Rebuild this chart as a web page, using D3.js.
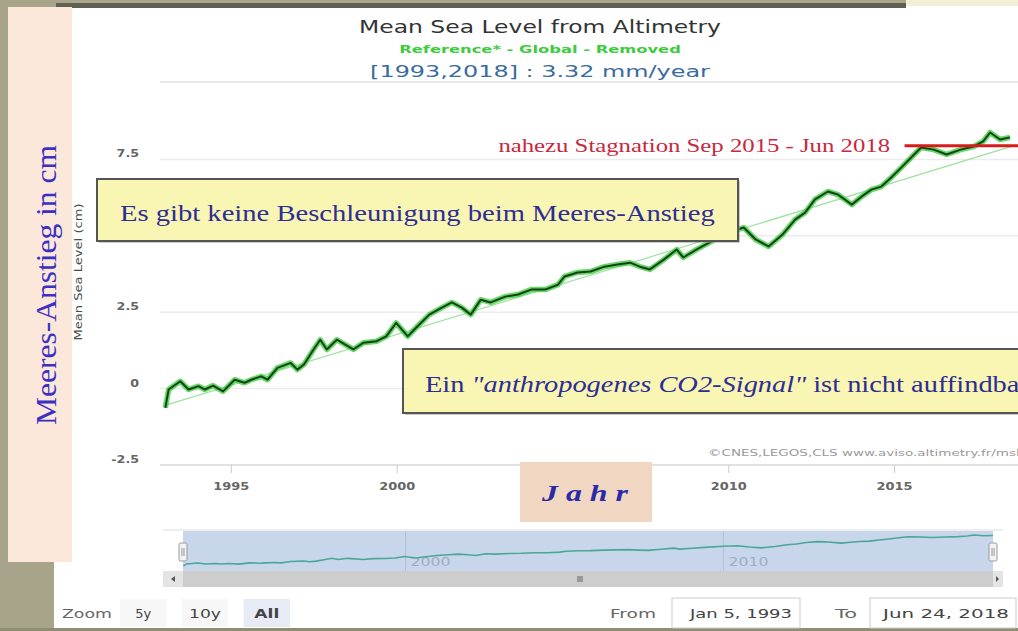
<!DOCTYPE html>
<html>
<head>
<meta charset="utf-8">
<script src="https://cdnjs.cloudflare.com/ajax/libs/d3/7.8.5/d3.min.js"></script>
<style>
  body { margin: 0; background: #fff; overflow: hidden; }
  svg { display: block; }
</style>
</head>
<body>
<script>
// values (cm, decimal year)
var years = [1993.01,1993.11,1993.46,1993.71,1994.01,1994.20,1994.45,1994.75,1995.10,1995.40,1995.60,1995.90,
  1996.09,1996.39,1996.79,1996.99,1997.19,1997.48,1997.68,1997.88,1998.18,1998.68,1998.98,1999.38,1999.67,1999.97,
  2000.32,2000.57,2000.97,2001.35,2001.65,2001.95,2002.22,2002.52,2002.82,2003.26,2003.65,2004.04,2004.46,2004.85,
  2005.05,2005.44,2005.83,2006.25,2006.64,2007.02,2007.32,2007.62,2008.04,2008.43,2008.63,2009.02,2009.41,2010.00,
  2010.45,2010.81,2011.20,2011.62,2012.00,2012.30,2012.60,2012.99,2013.29,2013.71,2014.00,2014.30,2014.60,2014.90,
  2015.20,2015.59,2015.80,2016.18,2016.57,2016.99,2017.38,2017.67,2017.88,2018.18,2018.48]
var levels = [-0.63,-0.03,0.24,-0.03,0.08,-0.03,0.10,-0.09,0.29,0.19,0.29,0.40,
  0.29,0.68,0.84,0.62,0.79,1.28,1.60,1.28,1.60,1.28,1.50,1.55,1.71,2.15,
  1.71,1.99,2.42,2.65,2.82,2.65,2.42,2.91,2.82,3.01,3.08,3.24,3.24,3.40,
  3.67,3.80,3.83,3.99,4.06,4.12,3.99,3.90,4.22,4.55,4.29,4.55,4.78,5.11,
  5.27,4.88,4.65,5.04,5.53,5.76,6.19,6.45,6.35,6.02,6.28,6.51,6.61,6.91,
  7.23,7.66,7.89,7.82,7.66,7.82,7.92,8.09,8.38,8.15,8.22]

// linear trend 3.32 mm/year
var trendYears = [1993.0, 2018.48]
var trendLevels = [-0.55, 7.91]

// "nahezu Stagnation" marker
var stagYears = [2015.3, 2018.9]
var stagLevel = 7.95

var yTicks = [-2.5, 0, 2.5, 5, 7.5]
var xTicks = [1995, 2000, 2005, 2010, 2015]
// the 5 and 2005 labels sit under the pasted boxes in the picture
var yLabels = [-2.5, 0, 2.5, 7.5]
var xLabels = [1995, 2000, 2010, 2015]
var navTicks = [2000, 2010]
var zoomButtons = ['5y', '10y', 'All']

var W = 1018, H = 631
var sans = '"DejaVu Sans", Verdana, sans-serif'
var serif = '"Liberation Serif", "Times New Roman", serif'

var svg = d3.select('body').append('svg')
    .attr('width', W)
    .attr('height', H)

// horizontally fit a text to a width (the screenshot is a bit stretched)
function place(t, x, y, anchor, width) {
    t.attr('text-anchor', anchor).attr('x', 0).attr('y', 0)
    var k = width ? width / t.node().getComputedTextLength() : 1
    t.attr('transform', 'translate(' + x + ',' + y + ') scale(' + k + ',1)')
    return t
}

// slide frame
svg.append('rect').attr('x', 0).attr('y', 0).attr('width', W).attr('height', H).attr('fill', '#fff')
svg.append('rect').attr('x', 0).attr('y', 0).attr('width', 8).attr('height', H).attr('fill', '#a7a489')
svg.append('rect').attr('x', 0).attr('y', 0).attr('width', 56).attr('height', 7).attr('fill', '#a7a489')
svg.append('rect').attr('x', 56).attr('y', 0).attr('width', 850).attr('height', 3).attr('fill', '#a9a68c')
svg.append('rect').attr('x', 56).attr('y', 3).attr('width', 850).attr('height', 5).attr('fill', '#5f5f54')
svg.append('rect').attr('x', 906).attr('y', 0).attr('width', 112).attr('height', 6).attr('fill', '#f3efd6')
svg.append('rect').attr('x', 0).attr('y', 562).attr('width', 54).attr('height', 69).attr('fill', '#a7a489')
svg.append('rect').attr('x', 8).attr('y', 7).attr('width', 64).attr('height', 555).attr('fill', '#fce8db')
svg.append('rect').attr('x', 0).attr('y', 628).attr('width', W).attr('height', 3).attr('fill', '#8f8d72')

var x = d3.scaleLinear().domain([1993, 2018.48]).range([165, 1010])
var y = d3.scaleLinear().domain([-2.5, 10]).range([465, 83])

// titles
place(svg.append('text').text('Mean Sea Level from Altimetry')
    .style('font-family', sans).style('font-size', '17px').attr('fill', '#333'), 540, 33, 'middle', 362)
place(svg.append('text').text('Reference* - Global - Removed')
    .style('font-family', sans).style('font-size', '11px').style('font-weight', 'bold').attr('fill', '#3ccc3c'), 540, 53, 'middle', 282)
place(svg.append('text').text('[1993,2018] : 3.32 mm/year')
    .style('font-family', sans).style('font-size', '16px').attr('fill', '#3a6b9e'), 540, 77, 'middle', 340)

// grid
svg.append('line').attr('x1', 160).attr('x2', W).attr('y1', y(10) - 1).attr('y2', y(10) - 1)
    .attr('stroke', '#e3e3e3').attr('stroke-width', 1.5)
svg.selectAll('line.grid')
    .data(yTicks)
    .enter()
    .append('line')
        .attr('class', 'grid')
        .attr('x1', 160).attr('x2', W)
        .attr('y1', function(d) { return y(d) }).attr('y2', function(d) { return y(d) })
        .attr('stroke', function(d) { return d == -2.5 ? '#d8d8d8' : '#ececec' })
        .attr('stroke-width', 1.5)

svg.selectAll('text.ytick')
    .data(yLabels)
    .enter()
    .append('text')
        .attr('class', 'ytick')
        .text(function(d) { return d })
        .style('font-family', sans).style('font-size', '11px').style('font-weight', 'bold')
        .attr('fill', '#666')
        .each(function(d) {
            var t = d3.select(this)
            place(t, 139, y(d) - 2, 'end', t.node().getComputedTextLength() * 1.15)
        })

svg.selectAll('line.xtick')
    .data(xTicks)
    .enter()
    .append('line')
        .attr('class', 'xtick')
        .attr('x1', function(d) { return x(d) }).attr('x2', function(d) { return x(d) })
        .attr('y1', 465).attr('y2', 473)
        .attr('stroke', '#ccc')

svg.selectAll('text.xtick')
    .data(xLabels)
    .enter()
    .append('text')
        .attr('class', 'xtick')
        .text(function(d) { return d })
        .style('font-family', sans).style('font-size', '11px').style('font-weight', 'bold')
        .attr('fill', '#666')
        .each(function(d) { place(d3.select(this), x(d), 490, 'middle', 36) })

svg.append('text').text('Mean Sea Level (cm)')
    .attr('transform', 'translate(82,272) rotate(-90)')
    .attr('text-anchor', 'middle')
    .attr('textLength', 137)
    .attr('lengthAdjust', 'spacingAndGlyphs')
    .style('font-family', sans).style('font-size', '11px')
    .attr('fill', '#4a4a4a')

place(svg.append('text').text('\u00a9CNES,LEGOS,CLS www.aviso.altimetry.fr/msl')
    .style('font-family', sans).style('font-size', '9px')
    .attr('fill', '#9a9a9a'), 708, 456, 'start', 312)

// series
var pts = years.map(function(d, i) { return [d, levels[i]] })
var line = d3.line()
    .x(function(d) { return x(d[0]) })
    .y(function(d) { return y(d[1]) })

svg.append('path')
    .datum([[trendYears[0], trendLevels[0]], [trendYears[1], trendLevels[1]]])
    .attr('d', line)
    .attr('fill', 'none')
    .attr('stroke', '#9ee29e')
    .attr('stroke-width', 1.2)

svg.append('path')
    .datum(pts)
    .attr('d', line)
    .attr('fill', 'none')
    .attr('stroke', '#3fd03f')
    .attr('stroke-width', 5.5)
    .attr('stroke-linejoin', 'round')
    .attr('opacity', 0.8)

svg.append('path')
    .datum(pts)
    .attr('d', line)
    .attr('fill', 'none')
    .attr('stroke', '#173f19')
    .attr('stroke-width', 2)
    .attr('stroke-linejoin', 'round')

// stagnation marker
svg.append('line')
    .attr('x1', x(stagYears[0])).attr('x2', x(stagYears[1]))
    .attr('y1', y(stagLevel)).attr('y2', y(stagLevel))
    .attr('stroke', '#d81c1c')
    .attr('stroke-width', 3)
place(svg.append('text').text('nahezu Stagnation Sep 2015 - Jun 2018')
    .style('font-family', serif).style('font-size', '19px').attr('fill', '#c8283e'), 890, 152, 'end', 392)

// annotation boxes
svg.append('rect').attr('x', 99).attr('y', 181).attr('width', 641).attr('height', 62).attr('fill', '#9a9a8a').attr('opacity', 0.5)
svg.append('rect').attr('x', 97).attr('y', 179).attr('width', 641).attr('height', 62)
    .attr('fill', '#f9f5b3').attr('stroke', '#555').attr('stroke-width', 2)
place(svg.append('text').text('Es gibt keine Beschleunigung beim Meeres-Anstieg')
    .style('font-family', serif).style('font-size', '24px').attr('fill', '#2d2d95'), 120, 221, 'start', 595)

svg.append('rect').attr('x', 405).attr('y', 351).attr('width', 660).attr('height', 64).attr('fill', '#9a9a8a').attr('opacity', 0.5)
svg.append('rect').attr('x', 403).attr('y', 349).attr('width', 660).attr('height', 64)
    .attr('fill', '#f9f5b3').attr('stroke', '#555').attr('stroke-width', 2)
var t2 = svg.append('text')
    .style('font-family', serif).style('font-size', '24px').attr('fill', '#2d2d95')
t2.append('tspan').text('Ein ')
t2.append('tspan').text('"anthropogenes CO2-Signal"').style('font-style', 'italic')
t2.append('tspan').text(' ist nicht auffindbar')
place(t2, 425, 392, 'start', 604)

// left label
svg.append('text').text('Meeres-Anstieg in cm')
    .attr('transform', 'translate(56,285) rotate(-90)')
    .attr('text-anchor', 'middle')
    .attr('textLength', 280)
    .attr('lengthAdjust', 'spacingAndGlyphs')
    .style('font-family', serif).style('font-size', '29px')
    .attr('fill', '#3b30c2')

// Jahr box
svg.append('rect').attr('x', 520).attr('y', 462).attr('width', 132).attr('height', 60).attr('fill', '#f1d6c1')
place(svg.append('text').text('J a h r')
    .style('font-family', serif).style('font-size', '23px')
    .style('font-weight', 'bold').style('font-style', 'italic')
    .attr('fill', '#2a2aa8'), 585, 501, 'middle', 86)

// navigator
var nx = d3.scaleLinear().domain([1993, 2018.48]).range([183, 993])
var ny = d3.scaleLinear().domain(d3.extent(levels)).range([566, 535])

svg.append('line').attr('x1', 163).attr('x2', 1003).attr('y1', 530).attr('y2', 530).attr('stroke', '#ddd')
svg.append('rect').attr('x', 183).attr('y', 531).attr('width', 810).attr('height', 40).attr('fill', '#c7d6eb')
svg.selectAll('line.navgrid')
    .data(navTicks)
    .enter()
    .append('line')
        .attr('class', 'navgrid')
        .attr('x1', function(d) { return nx(d) }).attr('x2', function(d) { return nx(d) })
        .attr('y1', 531).attr('y2', 571)
        .attr('stroke', '#b3c2d8')
svg.selectAll('text.navtick')
    .data(navTicks)
    .enter()
    .append('text')
        .attr('class', 'navtick')
        .text(function(d) { return d })
        .style('font-family', sans).style('font-size', '12px')
        .attr('fill', '#9fadc0')
        .each(function(d) { place(d3.select(this), nx(d) + 5, 566, 'start', 40) })

svg.append('path')
    .datum(pts)
    .attr('d', d3.line().x(function(d) { return nx(d[0]) }).y(function(d) { return ny(d[1]) }))
    .attr('fill', 'none')
    .attr('stroke', '#4ba697')
    .attr('stroke-width', 1.6)

;[183, 993].forEach(function(hx) {
    svg.append('rect').attr('x', hx - 4).attr('y', 543).attr('width', 8).attr('height', 18).attr('rx', 1.5)
        .attr('fill', '#f2f2f2').attr('stroke', '#999')
    svg.append('line').attr('x1', hx - 1).attr('x2', hx - 1).attr('y1', 548).attr('y2', 556).attr('stroke', '#999')
    svg.append('line').attr('x1', hx + 1).attr('x2', hx + 1).attr('y1', 548).attr('y2', 556).attr('stroke', '#999')
})

// scrollbar
svg.append('rect').attr('x', 163).attr('y', 571).attr('width', 840).attr('height', 16).attr('fill', '#cdcdcd')
svg.append('rect').attr('x', 163).attr('y', 571).attr('width', 20).attr('height', 16).attr('fill', '#e4e4e4')
svg.append('rect').attr('x', 993).attr('y', 571).attr('width', 10).attr('height', 16).attr('fill', '#e4e4e4')
svg.append('path').attr('d', 'M171,579 L175,576 L175,582 Z').attr('fill', '#555')
svg.append('path').attr('d', 'M999,579 L996,576 L996,582 Z').attr('fill', '#555')
;[-2, 0, 2].forEach(function(o) {
    svg.append('line').attr('x1', 580 + o).attr('x2', 580 + o).attr('y1', 576).attr('y2', 582).attr('stroke', '#666')
})

// range selector
function label(txt, x0, anchor, width, color, weight) {
    return place(svg.append('text').text(txt)
        .style('font-family', sans).style('font-size', '13px')
        .style('font-weight', weight || 'normal')
        .attr('fill', color), x0, 618, anchor, width)
}
label('Zoom', 62, 'start', 50, '#666')

var bx = d3.scaleBand().domain(zoomButtons).range([120, 290]).paddingInner(0.25)
svg.selectAll('rect.btn')
    .data(zoomButtons)
    .enter()
    .append('rect')
        .attr('class', 'btn')
        .attr('x', function(d) { return bx(d) })
        .attr('y', 599)
        .attr('width', bx.bandwidth())
        .attr('height', 28)
        .attr('fill', function(d) { return d == 'All' ? '#e6ebf5' : '#f7f7f7' })
var btnWidths = { '5y': 16, '10y': 32, 'All': 25 }
zoomButtons.forEach(function(d) {
    label(d, bx(d) + bx.bandwidth() / 2, 'middle', btnWidths[d], '#444', d == 'All' ? 'bold' : 'normal')
})

label('From', 610, 'start', 46, '#666')
svg.append('rect').attr('x', 672).attr('y', 598).attr('width', 128).attr('height', 30)
    .attr('fill', '#fff').attr('stroke', '#ccc')
label('Jan 5, 1993', 741, 'middle', 102, '#444')
label('To', 835, 'start', 22, '#666')
svg.append('rect').attr('x', 870).attr('y', 598).attr('width', 146).attr('height', 30)
    .attr('fill', '#fff').attr('stroke', '#ccc')
label('Jun 24, 2018', 946, 'middle', 126, '#444')
</script>
</body>
</html>
